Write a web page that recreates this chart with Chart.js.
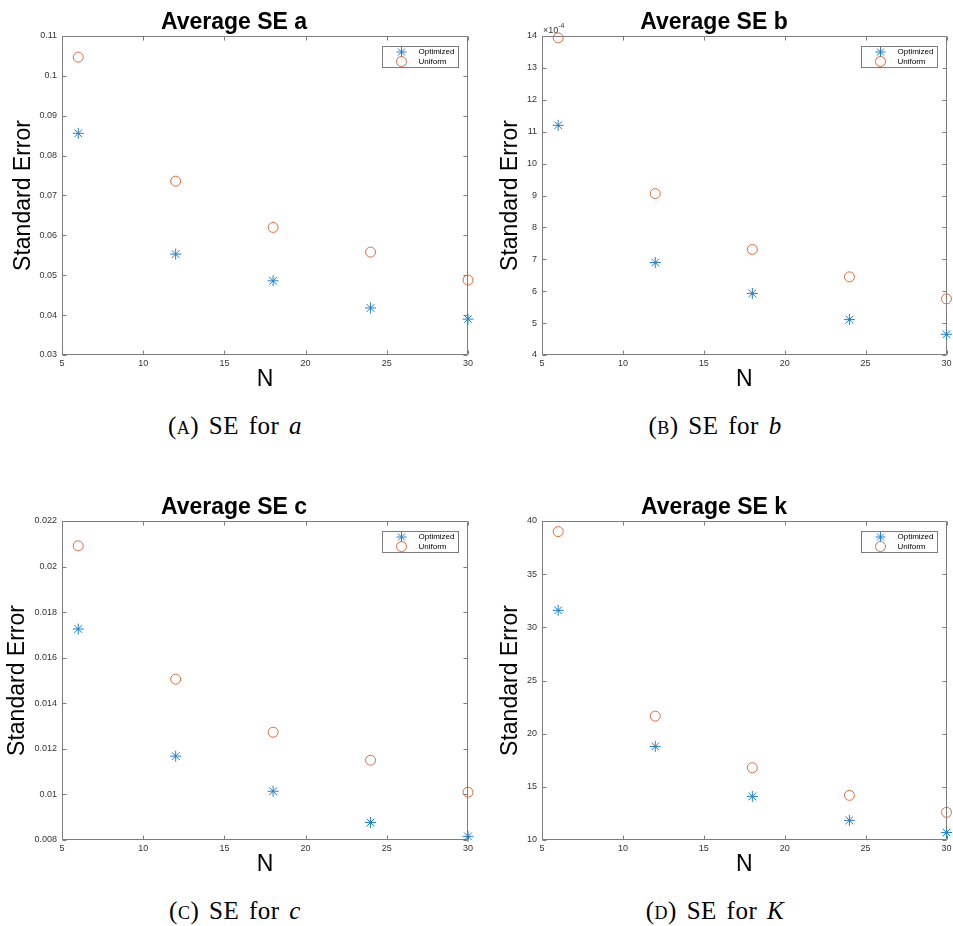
<!DOCTYPE html>
<html>
<head>
<meta charset="utf-8">
<script src="https://cdn.jsdelivr.net/npm/chart.js"></script>
<style>
  body { margin: 0; background: #fff; }
  #page { position: relative; width: 953px; height: 926px; overflow: hidden; }
  canvas { position: absolute; }
  .caption {
    position: absolute; width: 470px; text-align: center;
    font-family: "Liberation Serif", serif; font-size: 25px; line-height: 25px;
    letter-spacing: 0.5px; word-spacing: 3px; color: #000;
  }
  .sc { font-variant: small-caps; }
</style>
</head>
<body>
<div id="page">
  <canvas id="chartA" width="480" height="400" style="left:0;top:0"></canvas>
  <canvas id="chartB" width="473" height="400" style="left:480px;top:0"></canvas>
  <canvas id="chartC" width="480" height="400" style="left:0;top:485px"></canvas>
  <canvas id="chartD" width="473" height="400" style="left:480px;top:485px"></canvas>
  <div class="caption" style="left:0;top:413px">(<span class="sc">a</span>) SE for <i>a</i></div>
  <div class="caption" style="left:480px;top:413px">(<span class="sc">b</span>) SE for <i>b</i></div>
  <div class="caption" style="left:0;top:898px">(<span class="sc">c</span>) SE for <i>c</i></div>
  <div class="caption" style="left:480px;top:898px">(<span class="sc">d</span>) SE for <i>K</i></div>
</div>
<script>
// sample sizes on the x axis
var nValues = [6, 12, 18, 24, 30];

// standard errors
var seA_optimized = [0.0856, 0.0553, 0.0486, 0.0418, 0.0390];
var seA_uniform   = [0.1047, 0.0736, 0.0620, 0.0558, 0.0488];

var seB_optimized = [0.001120, 0.000690, 0.000593, 0.000511, 0.000465];
var seB_uniform   = [0.001394, 0.000906, 0.000731, 0.000645, 0.000576];

var seC_optimized = [0.01726, 0.01168, 0.01014, 0.00877, 0.00816];
var seC_uniform   = [0.02091, 0.01506, 0.01273, 0.01150, 0.01010];

var seK_optimized = [31.6, 18.8, 14.1, 11.85, 10.7];
var seK_uniform   = [39.0, 21.65, 16.8, 14.2, 12.6];

var seriesNames = ['Optimized', 'Uniform'];
var titles = ['Average SE a', 'Average SE b', 'Average SE c', 'Average SE k'];

var BLUE = '#1f80cc';
var ORANGE = '#e2693a';
var AXIS_GRAY = '#7d7d7d';

function toPoints(ys) {
    var pts = [];
    for (var i = 0; i < nValues.length; i++) {
        pts.push({ x: nValues[i], y: ys[i] });
    }
    return pts;
}

// matlab style box with inward ticks on all four sides
var boxPlugin = {
    id: 'matlabBox',
    beforeDatasetsDraw: function(chart) {
        var ctx = chart.ctx;
        var a = chart.chartArea;
        var xs = chart.scales.x, ys = chart.scales.y;
        var l = Math.round(a.left) + 0.5, r = Math.round(a.right) - 0.5;
        var t = Math.round(a.top) + 0.5, b = Math.round(a.bottom) - 0.5;
        ctx.save();
        ctx.strokeStyle = AXIS_GRAY;
        ctx.lineWidth = 1;
        ctx.beginPath();
        ctx.rect(l, t, r - l, b - t);
        xs.ticks.forEach(function(tk) {
            var px = Math.round(xs.getPixelForValue(tk.value)) + 0.5;
            ctx.moveTo(px, b); ctx.lineTo(px, b - 4);
            ctx.moveTo(px, t); ctx.lineTo(px, t + 4);
        });
        ys.ticks.forEach(function(tk) {
            var py = Math.round(ys.getPixelForValue(tk.value)) + 0.5;
            ctx.moveTo(l, py); ctx.lineTo(l + 4, py);
            ctx.moveTo(r, py); ctx.lineTo(r - 4, py);
        });
        ctx.stroke();
        ctx.restore();
    },
    afterDraw: function(chart) {
        var ctx = chart.ctx;
        var a = chart.chartArea;
        var bx = Math.round(a.right) - 85.5, by = Math.round(a.top) + 10.5;
        ctx.save();
        ctx.fillStyle = '#fff';
        ctx.strokeStyle = AXIS_GRAY;
        ctx.lineWidth = 1;
        ctx.fillRect(bx, by, 76, 21);
        ctx.strokeRect(bx, by, 76, 21);

        // asterisk
        var mx = bx + 19, my = by + 5.5;
        ctx.strokeStyle = BLUE;
        ctx.beginPath();
        ctx.moveTo(mx - 5, my); ctx.lineTo(mx + 5, my);
        ctx.moveTo(mx, my - 5); ctx.lineTo(mx, my + 5);
        ctx.moveTo(mx - 3.5, my - 3.5); ctx.lineTo(mx + 3.5, my + 3.5);
        ctx.moveTo(mx - 3.5, my + 3.5); ctx.lineTo(mx + 3.5, my - 3.5);
        ctx.stroke();
        // circle
        ctx.strokeStyle = ORANGE;
        ctx.beginPath();
        ctx.arc(mx, by + 15, 5, 0, Math.PI * 2);
        ctx.stroke();

        ctx.fillStyle = '#000';
        ctx.font = '8px "Liberation Sans"';
        ctx.textBaseline = 'middle';
        ctx.textAlign = 'left';
        ctx.fillText(seriesNames[0], bx + 36, by + 5.5);
        ctx.fillText(seriesNames[1], bx + 36, by + 15);

        // exponent note for the b panel
        if (chart.options.plugins.matlabBox && chart.options.plugins.matlabBox.exponent) {
            ctx.fillStyle = '#333';
            ctx.textBaseline = 'alphabetic';
            ctx.font = '9px "Liberation Sans"';
            ctx.fillText('\u00d710', a.left + 1, a.top - 3);
            var w = ctx.measureText('\u00d710').width;
            ctx.font = '7px "Liberation Sans"';
            ctx.fillText('-' + chart.options.plugins.matlabBox.exponent, a.left + 1 + w, a.top - 8);
        }
        ctx.restore();
    }
};

function makePanel(id, title, opt, uni, yMin, yMax, yStep, fmt, yTitlePad, exponent) {
    var ctx = document.getElementById(id).getContext('2d');
    var canvasW = document.getElementById(id).width;
    return new Chart(ctx, {
        type: 'scatter',
        data: {
            datasets: [{
                label: seriesNames[0],
                data: toPoints(opt),
                pointStyle: 'star',
                pointRadius: 5.5,
                borderColor: BLUE,
                backgroundColor: BLUE,
                borderWidth: 1,
                clip: false
            }, {
                label: seriesNames[1],
                data: toPoints(uni),
                pointStyle: 'circle',
                pointRadius: 5,
                borderColor: ORANGE,
                backgroundColor: 'rgba(0,0,0,0)',
                borderWidth: 1,
                clip: false
            }]
        },
        options: {
            responsive: false,
            animation: false,
            devicePixelRatio: 1,
            events: [],
            layout: { padding: { left: 0, right: canvasW - 468, top: 0, bottom: 0 } },
            plugins: {
                legend: { display: false },
                tooltip: { enabled: false },
                title: {
                    display: true,
                    text: title,
                    color: '#000',
                    font: { family: 'Liberation Sans', size: 23, weight: 'bold', lineHeight: 1.2 },
                    padding: { top: 8.4, bottom: 0 }
                },
                matlabBox: { exponent: exponent }
            },
            scales: {
                x: {
                    type: 'linear',
                    min: 5, max: 30,
                    grid: { display: false, drawTicks: false },
                    border: { display: false },
                    ticks: {
                        stepSize: 5,
                        padding: 3,
                        maxRotation: 0,
                        color: '#333',
                        font: { family: 'Liberation Sans', size: 9 }
                    },
                    title: {
                        display: true,
                        text: 'N',
                        color: '#000',
                        font: { family: 'Liberation Sans', size: 23 },
                        padding: { top: 0, bottom: 7 }
                    },
                    afterFit: function(s) { s.height = 45; s.paddingLeft = 0; s.paddingRight = 0; }
                },
                y: {
                    type: 'linear',
                    min: yMin, max: yMax,
                    grid: { display: false, drawTicks: false },
                    border: { display: false },
                    ticks: {
                        stepSize: yStep,
                        padding: 5,
                        color: '#333',
                        font: { family: 'Liberation Sans', size: 9 },
                        callback: fmt
                    },
                    title: {
                        display: true,
                        text: 'Standard Error',
                        color: '#000',
                        font: { family: 'Liberation Sans', size: 23 },
                        padding: { top: yTitlePad, bottom: 0 }
                    },
                    afterFit: function(s) { s.width = 62; s.paddingTop = 0; s.paddingBottom = 0; }
                }
            }
        },
        plugins: [boxPlugin]
    });
}

function plainFmt(v) { return String(Number(v.toFixed(6))); }
function e4Fmt(v) { return String(Math.round(v * 1e4)); }

makePanel('chartA', titles[0], seA_optimized, seA_uniform, 0.03, 0.11, 0.01, plainFmt, 10);
makePanel('chartB', titles[1], seB_optimized, seB_uniform, 0.0004, 0.0014, 0.0001, e4Fmt, 17, '4');
makePanel('chartC', titles[2], seC_optimized, seC_uniform, 0.008, 0.022, 0.002, plainFmt, 4);
makePanel('chartD', titles[3], seK_optimized, seK_uniform, 10, 40, 5, plainFmt, 17);
</script>
</body>
</html>
